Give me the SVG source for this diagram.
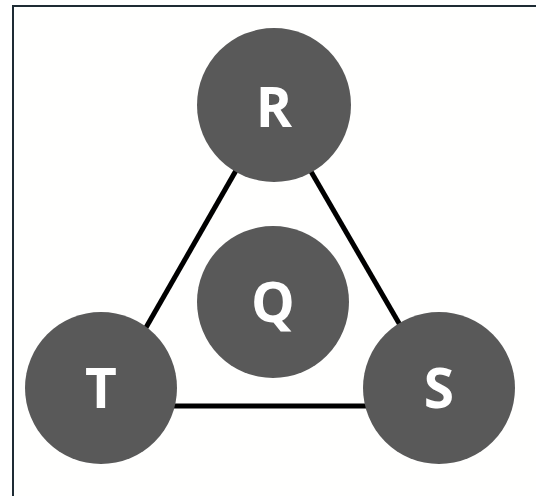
<svg xmlns="http://www.w3.org/2000/svg" width="536" height="496" viewBox="0 0 536 496">
<style>
.node{fill:#595959}
.lbl{fill:#ffffff;font-family:"Open Sans","Noto Sans","DejaVu Sans",sans-serif;font-weight:bold;font-size:55px;text-anchor:middle}
.edge{stroke:#000000;stroke-width:5;fill:none}
</style>
<rect x="0" y="0" width="536" height="496" fill="#ffffff"/>
<rect x="13" y="6" width="560" height="500" fill="#fffffe" stroke="#1e2b34" stroke-width="2"/>
<g id="connectors">
<line class="edge" x1="273" y1="106" x2="101" y2="406"/>
<line class="edge" x1="273" y1="106" x2="447" y2="406"/>
<line class="edge" x1="101" y1="406" x2="447" y2="406"/>
</g>
<g id="R"><circle class="node" cx="274" cy="105" r="77"/><text class="lbl" x="274" y="127">R</text></g>
<g id="Q"><circle class="node" cx="273" cy="302" r="76"/><text class="lbl" x="273" y="322">Q</text></g>
<g id="T"><circle class="node" cx="101" cy="388" r="76"/><text class="lbl" x="101" y="408">T</text></g>
<g id="S"><circle class="node" cx="439" cy="388" r="76"/><text class="lbl" x="439" y="408">S</text></g>
</svg>
